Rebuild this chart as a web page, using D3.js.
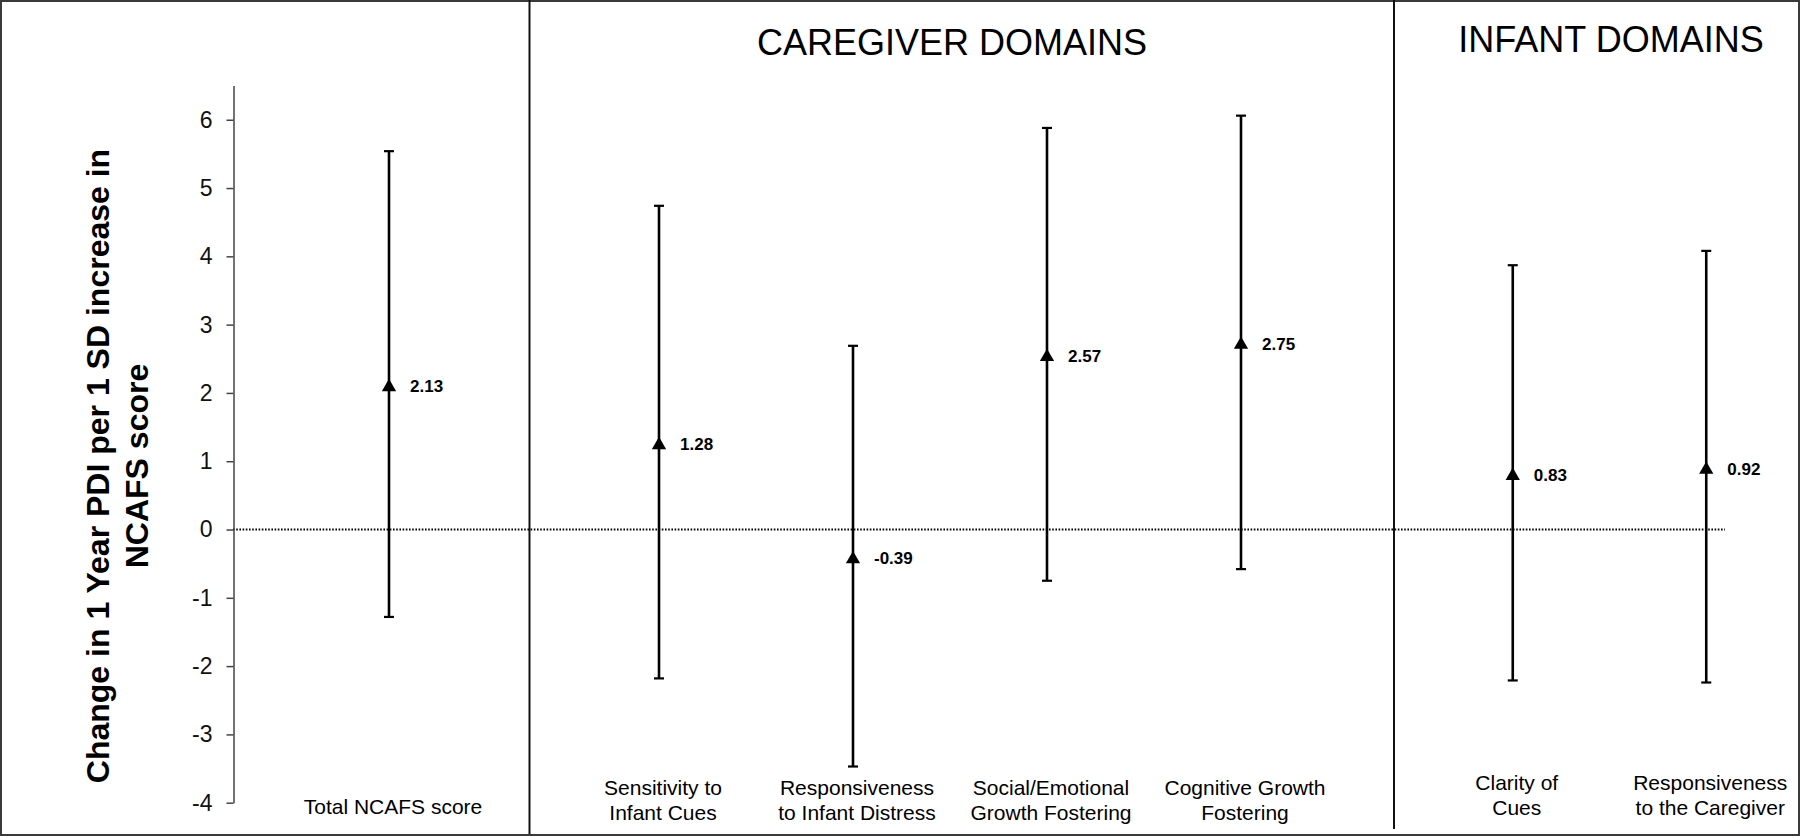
<!DOCTYPE html>
<html>
<head>
<meta charset="utf-8">
<script src="https://cdn.jsdelivr.net/npm/d3@7"></script>
<style>
	html, body { margin: 0; padding: 0; background: #fff; }
	svg { display: block; font-family: 'Liberation Sans', Arial, sans-serif; }
</style>
</head>
<body>
<svg id="chart" width="1800" height="836"></svg>
<script>
// DATA
var categories = [
	['Total NCAFS score'],
	['Sensitivity to', 'Infant Cues'],
	['Responsiveness', 'to Infant Distress'],
	['Social/Emotional', 'Growth Fostering'],
	['Cognitive Growth', 'Fostering'],
	['Clarity of', 'Cues'],
	['Responsiveness', 'to the Caregiver']
];
var domainOf = ['total', 'caregiver', 'caregiver', 'caregiver', 'caregiver', 'infant', 'infant'];
var estimates = [2.13, 1.28, -0.39, 2.57, 2.75, 0.83, 0.92];
var lowerCI = [-1.28, -2.18, -3.47, -0.75, -0.58, -2.21, -2.24];
var upperCI = [5.54, 4.74, 2.69, 5.88, 6.06, 3.87, 4.08];
var yTicks = [-4, -3, -2, -1, 0, 1, 2, 3, 4, 5, 6];
var domainTitles = { total: '', caregiver: 'CAREGIVER DOMAINS', infant: 'INFANT DOMAINS' };
var yTitle = ['Change in 1 Year PDI per 1 SD increase in', 'NCAFS score'];

(function(d3){
	'use strict';

	var W = 1800, H = 836;
	var svg = d3.select('#chart');

	// panel layout: where each group of estimates lives
	var panels = {
		total: { range: [233, 545], title: null, labelY: 814 },
		caregiver: { range: [562, 1338], title: { x: 952, y: 55 }, labelY: 795 },
		infant: { range: [1416, 1803], title: { x: 1611, y: 52 }, labelY: 790 }
	};

	var yScale = d3.scaleLinear().domain([-4, 6.5]).range([802.7, 85.6]);

	var rows = categories.map(function(c, i){
		return { label: c, domain: domainOf[i], est: estimates[i], lo: lowerCI[i], hi: upperCI[i] };
	});

	// one band scale per panel
	Object.keys(panels).forEach(function(k){
		var names = rows.filter(function(r){ return r.domain === k; }).map(function(r){ return r.label.join(' '); });
		panels[k].x = d3.scaleBand().domain(names).range(panels[k].range).padding(0);
	});
	function xOf(r) {
		var s = panels[r.domain].x;
		return s(r.label.join(' ')) + s.bandwidth() / 2;
	}

	// OUTER FRAME + DIVIDERS
	svg.append('rect')
		.attr('x', 1).attr('y', 1).attr('width', W - 2).attr('height', H - 2)
		.attr('fill', 'none').attr('stroke', '#3a3a3a').attr('stroke-width', 2);
	svg.append('line')
		.attr('x1', 529.5).attr('x2', 529.5).attr('y1', 0).attr('y2', 834)
		.attr('stroke', '#111').attr('stroke-width', 2);
	svg.append('line')
		.attr('x1', 1394).attr('x2', 1394).attr('y1', 0).attr('y2', 829)
		.attr('stroke', '#111').attr('stroke-width', 2);

	// ZERO REFERENCE LINE
	svg.append('line')
		.attr('x1', 233).attr('x2', 1725)
		.attr('y1', yScale(0)).attr('y2', yScale(0))
		.attr('stroke', '#000').attr('stroke-width', 2)
		.attr('stroke-dasharray', '1.6,1.6');

	// Y AXIS (plain hyphen minus, like the original)
	var yAxis = d3.axisLeft(yScale)
		.tickValues(yTicks)
		.tickFormat(function(d){ return String(d); })
		.tickSize(7).tickSizeOuter(0).tickPadding(14);
	var gy = svg.append('g').attr('transform', 'translate(233.5,0)').call(yAxis);
	gy.select('.domain').attr('stroke', '#444').attr('stroke-width', 1.5);
	gy.selectAll('.tick line').attr('stroke', '#444').attr('stroke-width', 1.5);
	gy.selectAll('.tick text')
		.attr('font-size', 23).attr('fill', '#111')
		.attr('font-family', "'Liberation Sans', Arial, sans-serif");

	// Y TITLE
	var yt = svg.append('text')
		.attr('transform', 'translate(109,466) rotate(-90)')
		.attr('text-anchor', 'middle')
		.attr('font-size', 32).attr('font-weight', 'bold').attr('fill', '#000');
	yt.append('tspan').attr('x', 0).attr('y', 0).text(yTitle[0]);
	yt.append('tspan').attr('x', 0).attr('y', 39).text(yTitle[1]);

	// PANEL TITLES
	Object.keys(panels).forEach(function(k){
		var t = panels[k].title;
		if (!t) return;
		svg.append('text')
			.attr('x', t.x).attr('y', t.y)
			.attr('text-anchor', 'middle')
			.attr('font-size', 36).attr('fill', '#000')
			.text(domainTitles[k]);
	});

	// ERROR BARS
	var g = svg.selectAll('g.est').data(rows).enter().append('g').attr('class', 'est');
	g.append('line')
		.attr('x1', xOf).attr('x2', xOf)
		.attr('y1', function(d){ return yScale(d.hi); })
		.attr('y2', function(d){ return yScale(d.lo); })
		.attr('stroke', '#000').attr('stroke-width', 2.6);
	['hi', 'lo'].forEach(function(key){
		g.append('line')
			.attr('x1', function(d){ return xOf(d) - 5; })
			.attr('x2', function(d){ return xOf(d) + 5; })
			.attr('y1', function(d){ return yScale(d[key]); })
			.attr('y2', function(d){ return yScale(d[key]); })
			.attr('stroke', '#000').attr('stroke-width', 2.2);
	});

	// MARKERS
	g.append('path')
		.attr('d', d3.symbol(d3.symbolTriangle, 88))
		.attr('transform', function(d){ return 'translate(' + xOf(d) + ',' + (yScale(d.est) + 3) + ')'; })
		.attr('fill', '#000');

	// VALUE LABELS
	g.append('text')
		.attr('x', function(d){ return xOf(d) + 21; })
		.attr('y', function(d){ return yScale(d.est) + 2; })
		.attr('dy', '0.35em')
		.attr('font-size', 17).attr('font-weight', 'bold').attr('fill', '#000')
		.text(function(d){ return d.est.toFixed(2); });

	// CATEGORY LABELS
	var lab = g.append('text')
		.attr('text-anchor', 'middle')
		.attr('font-size', 21).attr('fill', '#000')
		.attr('transform', function(d){
			return 'translate(' + (xOf(d) + 4) + ',' + panels[d.domain].labelY + ')';
		});
	lab.selectAll('tspan')
		.data(function(d){ return d.label; })
		.enter().append('tspan')
		.attr('x', 0)
		.attr('y', function(d, i){ return i * 25; })
		.text(function(d){ return d; });

})(d3);
</script>
</body>
</html>
